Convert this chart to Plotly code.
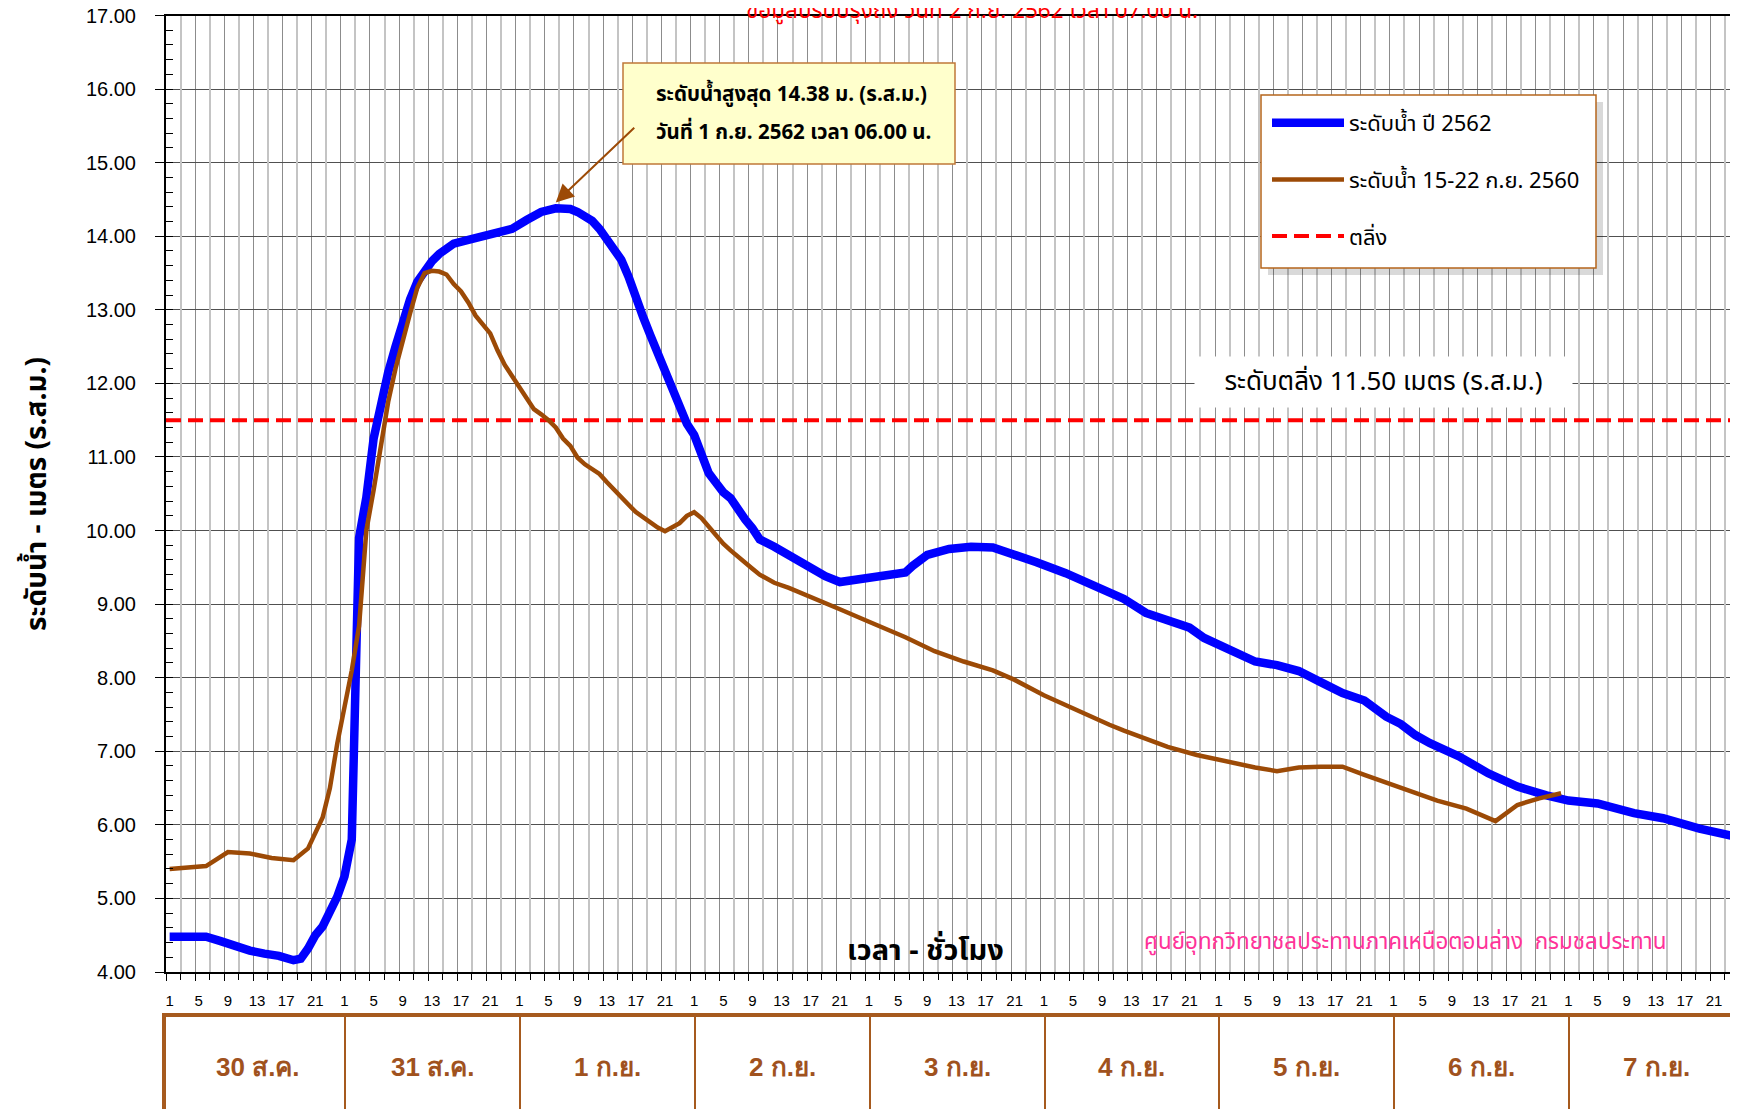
import plotly.graph_objects as go

# ---------------- data ----------------
days = ["30 ส.ค.", "31 ส.ค.", "1 ก.ย.", "2 ก.ย.", "3 ก.ย.", "4 ก.ย.", "5 ก.ย.", "6 ก.ย.", "7 ก.ย."]
hour_labels = [1, 5, 9, 13, 17, 21]
HOURS_PER_DAY = 24

# hour index counted from 30 Aug hour 1 (=1)
blue_hours = [1, 4, 6, 8, 10, 12, 14, 16, 18, 19, 20, 21, 22, 23, 24, 25, 26, 27, 28, 29,
              30, 31, 32, 33, 34, 35, 36, 37, 38, 39, 40, 42, 44, 47, 48, 50, 52, 54, 56, 57,
              59, 60, 62, 63, 64, 65, 66, 67, 68, 70, 71, 72, 73, 74, 75, 76, 77, 78, 79, 80,
              81, 82, 84, 85, 86, 88, 90, 91, 93, 96, 99, 102, 103, 105, 108, 111, 114, 117, 120, 124,
              126, 129, 132, 135, 138, 141, 143, 147, 150, 153, 156, 159, 162, 165, 168, 170, 172, 174, 178, 182,
              186, 190, 193, 197, 202, 206, 211, 216]
blue_level = [4.48, 4.48, 4.48, 4.42, 4.35, 4.29, 4.25, 4.22, 4.16, 4.18, 4.32, 4.50, 4.62, 4.82, 5.02, 5.30, 5.80, 9.90, 10.45, 11.25,
              11.75, 12.15, 12.50, 12.84, 13.14, 13.38, 13.53, 13.66, 13.76, 13.83, 13.90, 13.95, 14.00, 14.07, 14.10, 14.22, 14.33, 14.38, 14.37, 14.33,
              14.21, 14.10, 13.83, 13.68, 13.45, 13.15, 12.90, 12.65, 12.40, 11.95, 11.65, 11.45, 11.30, 11.05, 10.78, 10.65, 10.52, 10.44, 10.28, 10.15,
              10.03, 9.88, 9.78, 9.72, 9.65, 9.54, 9.44, 9.38, 9.30, 9.34, 9.39, 9.43, 9.52, 9.67, 9.75, 9.78, 9.77, 9.68, 9.57, 9.42,
              9.33, 9.19, 9.07, 8.88, 8.78, 8.68, 8.54, 8.35, 8.22, 8.17, 8.09, 7.94, 7.79, 7.69, 7.47, 7.37, 7.22, 7.11, 6.93, 6.70,
              6.52, 6.40, 6.33, 6.29, 6.16, 6.09, 5.95, 5.84]

brown_hours = [1, 6, 9, 12, 15, 18, 20, 22, 23, 24, 25, 26, 27, 28, 29, 30, 31, 32, 33, 34,
               35, 36, 37, 38, 39, 40, 41, 42, 43, 44, 45, 46, 47, 48, 49, 50, 51, 52, 53, 54,
               55, 56, 57, 58, 59, 60, 61, 62, 63, 64, 65, 66, 67, 68, 69, 70, 71, 72, 73, 74,
               75, 76, 77, 78, 79, 80, 81, 82, 83, 84, 86, 89, 93, 97, 102, 106, 110, 114, 117, 121,
               126, 130, 132, 135, 138, 142, 147, 150, 153, 156, 159, 162, 165, 169, 173, 175, 179, 183, 186, 189,
               192]
brown_level = [5.40, 5.44, 5.63, 5.61, 5.55, 5.52, 5.68, 6.10, 6.50, 7.10, 7.60, 8.10, 8.70, 10.00, 10.55, 11.20, 11.75, 12.20, 12.60, 12.95,
               13.30, 13.50, 13.53, 13.52, 13.48, 13.35, 13.25, 13.10, 12.92, 12.80, 12.68, 12.45, 12.25, 12.10, 11.95, 11.80, 11.65, 11.58, 11.50, 11.40,
               11.25, 11.15, 10.99, 10.90, 10.84, 10.77, 10.66, 10.55, 10.45, 10.35, 10.25, 10.18, 10.10, 10.04, 9.99, 10.04, 10.10, 10.20, 10.25, 10.17,
               10.05, 9.95, 9.82, 9.73, 9.64, 9.55, 9.48, 9.40, 9.34, 9.29, 9.22, 9.10, 8.93, 8.76, 8.55, 8.36, 8.22, 8.10, 7.97, 7.76,
               7.53, 7.36, 7.28, 7.17, 7.06, 6.95, 6.84, 6.78, 6.73, 6.78, 6.79, 6.79, 6.68, 6.54, 6.41, 6.33, 6.22, 6.05, 6.27, 6.36,
               6.43]

bank_level = 11.50
peak_level = 14.38
peak_hour = 54

# ---------------- geometry (page pixels; the page body adds an 8 px offset) ----------------
W, H = 1738, 1109
OFF = 8
plot_left, plot_top, plot_bottom, table_top = 166, 15.5, 972, 1017
PX_PER_HOUR = 7.285
TABLE_SHIFT = 0.6  # the date-table cells sit slightly right of the hour boundaries
x_start = 0.5
x_end = x_start + (W + OFF - plot_left) / PX_PER_HOUR
n_hours = len(days) * HOURS_PER_DAY


def px(x):
    return (x - OFF) / W


def py(y):
    return 1 - (y - OFF) / H


THAI = "Tahoma, 'Noto Sans Thai', 'Liberation Sans', Arial, sans-serif"
ARIAL = "'Liberation Sans', Arial, sans-serif"
BROWN = "#9C4A06"
TABLE_BROWN = "#A65A1E"

tickvals = [d * HOURS_PER_DAY + h for d in range(len(days)) for h in hour_labels]
ticktext = [str(h) for d in range(len(days)) for h in hour_labels]
day_edges = [d * HOURS_PER_DAY + 0.5 + TABLE_SHIFT for d in range(1, len(days))]

fig = go.Figure()

fig.add_trace(go.Scatter(
    x=[x_start, n_hours + 0.5], y=[bank_level, bank_level], mode="lines",
    name="ตลิ่ง", line=dict(color="#FF0000", width=4, dash="15px,7px"),
    legendgroup="c", legendrank=3, hoverinfo="skip"))
fig.add_trace(go.Scatter(
    x=blue_hours, y=blue_level, mode="lines", name="ระดับน้ำ ปี 2562",
    line=dict(color="#0000FF", width=8.5), legendgroup="a", legendrank=1))
fig.add_trace(go.Scatter(
    x=brown_hours, y=brown_level, mode="lines", name="ระดับน้ำ 15-22 ก.ย. 2560",
    line=dict(color=BROWN, width=4.5), legendgroup="b", legendrank=2))
# helper trace to host the light grid axis
fig.add_trace(go.Scatter(x=[None], y=[None], xaxis="x3", yaxis="y", showlegend=False, hoverinfo="skip"))
# helper trace for the date table
fig.add_trace(go.Scatter(x=[None], y=[None], xaxis="x2", yaxis="y2", showlegend=False, hoverinfo="skip"))

main_ydom = [py(plot_bottom), py(plot_top)]
xdom = [px(plot_left), 1]

fig.update_layout(
    width=W, height=H,
    margin=dict(l=0, r=0, t=0, b=0, autoexpand=False),
    paper_bgcolor="white", plot_bgcolor="white",
    font=dict(family=THAI, color="black"),
    xaxis=dict(
        domain=xdom, range=[x_start, x_end], anchor="y", automargin=False,
        tickmode="array", tickvals=tickvals, ticktext=ticktext,
        tickfont=dict(family=ARIAL, size=15, color="black"),
        ticks="", showgrid=False, zeroline=False, ticklabeloverflow="allow",
        showline=True, linecolor="black", linewidth=2, mirror=True,
        ticklabelstandoff=14,
        minor=dict(tick0=0.5, dtick=4, showgrid=True, gridcolor="#8C8C8C", gridwidth=1,
                   ticks="outside", ticklen=7, tickcolor="black", tickwidth=1),
    ),
    xaxis3=dict(
        domain=xdom, range=[x_start, x_end], overlaying="x", anchor="y", automargin=False,
        tick0=2.5, dtick=4, showgrid=True, gridcolor="#C4C4C4", gridwidth=1.5,
        showticklabels=False, ticks="outside", ticklen=7, tickcolor="black",
        zeroline=False, showline=False,
    ),
    yaxis=dict(
        domain=main_ydom, range=[4, 17], anchor="x", automargin=False,
        dtick=1, tick0=4, tickformat=".2f", ticklabeloverflow="allow",
        tickfont=dict(family=ARIAL, size=20, color="black"),
        ticks="outside", ticklen=9, tickcolor="black", tickwidth=1,
        ticklabelstandoff=15,
        showgrid=True, gridcolor="#505050", gridwidth=1,
        zeroline=False, showline=True, linecolor="black", linewidth=2,
        minor=dict(dtick=0.2, ticks="inside", ticklen=7, tickcolor="black", showgrid=False),
    ),
    xaxis2=dict(
        domain=xdom, range=[x_start, x_end], anchor="y2", side="top", automargin=False,
        tickmode="array", tickvals=day_edges, showgrid=True, gridcolor=TABLE_BROWN, gridwidth=2,
        showticklabels=False, ticks="", zeroline=False,
        showline=True, linecolor=TABLE_BROWN, linewidth=4,
    ),
    yaxis2=dict(
        domain=[0, py(table_top)], range=[0, 1], anchor="x2", automargin=False,
        showgrid=False, showticklabels=False, ticks="", zeroline=False,
        showline=True, linecolor=TABLE_BROWN, linewidth=4,
    ),
    showlegend=True,
    legend=dict(
        x=px(1267), y=py(102), xanchor="left", yanchor="top",
        bgcolor="rgba(0,0,0,0)", borderwidth=0,
        font=dict(family=THAI, size=22, color="black"),
        traceorder="grouped", tracegroupgap=25, itemwidth=72,
    ),
)

shapes = [
    # callout box
    dict(type="rect", xref="paper", yref="paper", x0=px(623), x1=px(955), y0=py(164), y1=py(63),
         fillcolor="#FFFFCC", line=dict(color="#C07838", width=1.5), layer="above"),
    # legend shadow
    dict(type="rect", xref="paper", yref="paper", x0=px(1268), x1=px(1603), y0=py(275), y1=py(102),
         fillcolor="rgba(0,0,0,0.15)", line=dict(width=0), layer="above"),
    # legend box
    dict(type="rect", xref="paper", yref="paper", x0=px(1261), x1=px(1596), y0=py(268), y1=py(95),
         fillcolor="white", line=dict(color="#B5651D", width=1.5), layer="above"),
]
fig.update_layout(shapes=shapes)

ann = []
ann.append(dict(text="<b>ระดับน้ำ - เมตร (ร.ส.ม.)</b>", xref="paper", yref="paper",
                x=px(37), y=py(494), xanchor="center", yanchor="middle", textangle=-90, showarrow=False,
                font=dict(family=THAI, size=28, color="black")))
ann.append(dict(text="<b>เวลา - ชั่วโมง</b>", xref="paper", yref="paper",
                x=px(925), y=py(951), xanchor="center", yanchor="middle", showarrow=False,
                font=dict(family=THAI, size=29, color="black")))
ann.append(dict(text="ศูนย์อุทกวิทยาชลประทานภาคเหนือตอนล่าง  กรมชลประทาน", xref="paper", yref="paper",
                x=px(1405), y=py(942), xanchor="center", yanchor="middle", showarrow=False,
                font=dict(family=THAI, size=22.4, color="#FF3399")))
ann.append(dict(text="ระดับตลิ่ง 11.50 เมตร (ร.ส.ม.)", xref="paper", yref="paper",
                x=px(1383), y=py(382), xanchor="center", yanchor="middle", showarrow=False,
                width=375, height=48, bgcolor="white",
                font=dict(family=THAI, size=26, color="black")))
ann.append(dict(text="ข้อมูลปรับปรุงถึง วันที่ 2 ก.ย. 2562 เวลา 07.00 น.", xref="paper", yref="paper",
                x=px(972), y=py(30), xanchor="center", yanchor="bottom", showarrow=False,
                font=dict(family=THAI, size=22.5, color="#FF0000")))
ann.append(dict(text="<b>ระดับน้ำสูงสุด 14.38 ม. (ร.ส.ม.)</b>", xref="paper", yref="paper",
                x=px(654), y=py(94), xanchor="left", yanchor="middle", showarrow=False,
                font=dict(family=THAI, size=20.5, color="black")))
ann.append(dict(text="<b>วันที่ 1 ก.ย. 2562 เวลา 06.00 น.</b>", xref="paper", yref="paper",
                x=px(654), y=py(133), xanchor="left", yanchor="middle", showarrow=False,
                font=dict(family=THAI, size=20.5, color="black")))
ann.append(dict(text="", xref="x", yref="y", x=peak_hour, y=peak_level + 0.08,
                ax=80, ay=-76, showarrow=True, arrowhead=2, arrowsize=1.8,
                arrowwidth=2, arrowcolor=BROWN, standoff=0))
for d, lab in enumerate(days):
    ann.append(dict(text="<b>" + lab + "</b>", xref="x2", yref="y2",
                    x=d * HOURS_PER_DAY + HOURS_PER_DAY / 2 + 0.5 + TABLE_SHIFT, y=0.5,
                    xanchor="center", yanchor="middle", showarrow=False,
                    font=dict(family=ARIAL, size=26, color="#A0521E")))
fig.update_layout(annotations=ann)

fig.write_html("out.html")
